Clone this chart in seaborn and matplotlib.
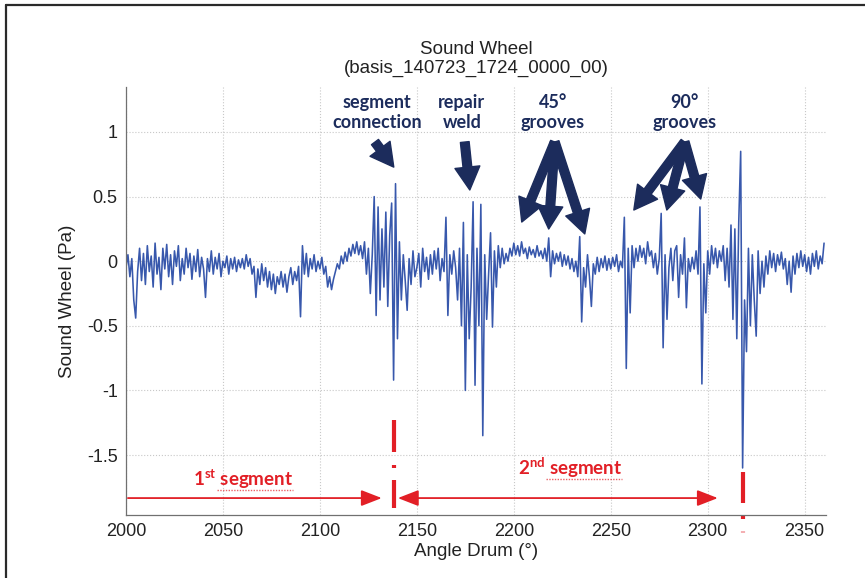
import numpy as np
import pandas as pd
import matplotlib
matplotlib.use("Agg")
import matplotlib.pyplot as plt
import seaborn as sns
from matplotlib.lines import Line2D

# ---------------- data (1 degree spacing) ----------------
angle_start = 2000
angle_step = 1
sound_pa = [
    -0.05, 0.05, -0.12, 0.02, -0.30, -0.44, -0.08, 0.10, -0.15, 0.06,   # 2000
    -0.18, 0.12, -0.08, 0.04, -0.20, 0.14, -0.10, 0.03, -0.22, 0.10,    # 2010
    -0.06, 0.13, -0.12, 0.05, -0.18, 0.08, -0.04, 0.12, -0.15, 0.02,    # 2020
    -0.10, 0.10, -0.05, 0.06, -0.14, 0.04, -0.08, 0.09, -0.12, 0.03,    # 2030
    -0.06, -0.28, 0.02, -0.08, 0.08, -0.10, 0.03, -0.06, 0.06, -0.12,   # 2040
    0.00, -0.05, 0.04, -0.10, 0.02, -0.06, 0.03, -0.08, 0.01, -0.05,    # 2050
    0.02, -0.06, 0.05, -0.04, 0.02, -0.10, -0.04, -0.28, -0.06, -0.18,  # 2060
    -0.02, -0.15, -0.05, -0.20, -0.08, -0.22, -0.10, -0.25, -0.12, -0.18,  # 2070
    -0.08, -0.20, -0.10, -0.24, -0.12, -0.05, -0.18, -0.08, -0.15, -0.04,  # 2080
    -0.43, 0.12, -0.10, 0.06, -0.12, 0.02, -0.06, 0.05, -0.08, 0.00,    # 2090
    -0.06, 0.03, -0.10, -0.04, -0.20, -0.12, -0.22, -0.14, -0.08, -0.02,  # 2100
    -0.06, 0.04, -0.02, 0.07, 0.00, 0.10, 0.04, 0.13, 0.06, 0.15,       # 2110
    0.05, 0.12, 0.02, 0.15, -0.10, 0.10, -0.25, 0.05, 0.50, -0.42,      # 2120
    0.42, -0.30, 0.25, -0.20, 0.38, -0.35, 0.20, 0.45, -0.92, 0.60,     # 2130
    -0.60, 0.15, -0.30, 0.05, -0.15, -0.38, 0.02, -0.18, 0.08, -0.12,   # 2140
    -0.05, 0.06, -0.20, 0.10, -0.08, 0.03, -0.14, 0.05, -0.10, 0.08,    # 2150
    -0.06, 0.10, -0.15, 0.02, -0.08, 0.34, -0.42, 0.05, -0.10, 0.08,    # 2160
    -0.05, -0.30, 0.10, -0.50, 0.30, -1.00, 0.05, -0.60, -0.20, 0.46,   # 2170
    -0.96, 0.10, -0.50, 0.44, -1.35, 0.05, -0.45, -0.10, 0.22, -0.51,   # 2180
    0.08, -0.20, 0.12, -0.05, 0.10, -0.02, 0.06, 0.00, 0.10, 0.04,      # 2190
    0.14, 0.05, 0.12, 0.04, 0.15, 0.06, 0.10, 0.02, 0.11, 0.05,         # 2200
    0.09, 0.03, 0.12, 0.04, 0.08, 0.02, 0.10, 0.00, 0.18, -0.12,        # 2210
    0.08, -0.02, 0.06, 0.00, 0.07, -0.04, 0.05, -0.03, 0.04, -0.06,     # 2220
    0.02, -0.08, 0.00, -0.12, 0.19, -0.47, -0.05, -0.20, 0.05, -0.12,   # 2230
    -0.35, -0.02, -0.10, 0.03, -0.08, 0.02, -0.05, 0.04, -0.07, 0.02,   # 2240
    -0.06, 0.03, -0.04, 0.05, -0.08, 0.00, -0.05, 0.34, -0.83, 0.10,    # 2250
    -0.40, 0.12, -0.05, 0.10, 0.00, 0.12, 0.03, 0.10, -0.02, 0.15,      # 2260
    0.04, 0.08, -0.05, 0.06, -0.10, 0.02, 0.37, -0.67, 0.05, -0.45,     # 2270
    -0.05, 0.10, -0.15, 0.08, 0.12, -0.28, 0.05, -0.10, 0.18, -0.36,    # 2280
    0.02, -0.08, 0.03, -0.06, 0.08, -0.10, 0.42, -0.95, -0.02, -0.40,   # 2290
    0.08, -0.10, 0.12, -0.02, 0.10, -0.05, 0.08, 0.00, 0.12, -0.15,     # 2300
    0.10, -0.20, 0.28, -0.45, 0.25, -0.60, 0.30, 0.85, -1.60, -0.30,    # 2310
    -0.70, 0.10, -0.50, 0.05, -0.30, -0.58, 0.08, -0.25, 0.00, -0.20,   # 2320
    0.04, -0.10, 0.08, -0.05, 0.06, -0.08, 0.05, -0.03, 0.07, -0.06,    # 2330
    0.02, -0.18, 0.00, -0.24, 0.04, -0.10, 0.06, -0.05, 0.08, -0.04,    # 2340
    0.05, -0.08, 0.03, -0.10, 0.06, -0.04, 0.08, -0.06, 0.04, -0.02,    # 2350
    0.14,                                                               # 2360
]
angle_deg = angle_start + angle_step * np.arange(len(sound_pa))

x_ticks = [2000, 2050, 2100, 2150, 2200, 2250, 2300, 2350]
y_ticks = [-1.5, -1, -0.5, 0, 0.5, 1]
y_tick_labels = ["-1.5", "-1", "-0.5", "0", "0.5", "1"]
x_limits = [2000, 2361]
y_limits = [-1.964, 1.348]

title_text = "Sound Wheel\n(basis_140723_1724_0000_00)"
x_label = "Angle Drum (°)"
y_label = "Sound Wheel (Pa)"

event_labels = ["segment\nconnection", "repair\nweld", "45°\ngrooves", "90°\ngrooves"]
event_label_x = [2129.4, 2173.2, 2220.1, 2288.1]
event_label_y = 1.15
# arrows: (start_x, start_y, end_x, end_y)
event_arrows = [
    (2128.4, 0.922, 2138.1, 0.728),
    (2174.7, 0.922, 2177.3, 0.551),
    (2221.1, 0.922, 2204.1, 0.303),
    (2221.1, 0.922, 2218.0, 0.249),
    (2221.1, 0.922, 2236.6, 0.211),
    (2288.1, 0.922, 2261.9, 0.396),
    (2288.1, 0.922, 2278.9, 0.396),
    (2288.1, 0.922, 2296.4, 0.481),
]

segment_marks = [2138.1, 2318.0]
segment_names = ["1$^{\\mathbf{st}}$ segment", "2$^{\\mathbf{nd}}$ segment"]
segment_name_x = [2060.3, 2228.9]
segment_name_y = [-1.741, -1.656]
segment_arrow_y = -1.833

# ---------------- style ----------------
sns.set_style("white")
plt.rcParams["font.family"] = ["Liberation Sans", "DejaVu Sans"]
plt.rcParams["axes.unicode_minus"] = False
plt.rcParams["mathtext.fontset"] = "custom"
plt.rcParams["mathtext.bf"] = "Lato:bold"
plt.rcParams["mathtext.rm"] = "Lato:bold"

NAVY = "#1c2c5c"
RED = "#e21f26"
BLUE = "#2d4fa8"

fig = plt.figure(figsize=(8.65, 5.78), dpi=100)
ax = fig.add_axes([126 / 865, 1 - 515 / 578, 700 / 865, 428 / 578])

df = pd.DataFrame({"angle": angle_deg, "sound": sound_pa})
sns.lineplot(data=df, x="angle", y="sound", ax=ax, color=BLUE, linewidth=1.15,
             estimator=None, sort=False, alpha=0.95)

ax.set_xlim(*x_limits)
ax.set_ylim(*y_limits)
ax.set_xticks(x_ticks)
ax.set_yticks(y_ticks)
ax.set_yticklabels(y_tick_labels)
ax.tick_params(direction="in", length=5, width=0.8, colors="#606060",
               labelcolor="#222222", labelsize=13, pad=6)
ax.grid(True, linestyle=":", color="#c8c8c8", linewidth=0.8)
for s in ["top", "right"]:
    ax.spines[s].set_visible(False)
for s in ["left", "bottom"]:
    ax.spines[s].set_color("#707070")
    ax.spines[s].set_linewidth(0.9)

ax.set_title(title_text, fontsize=13.5, color="#222222", pad=10, linespacing=1.2)
ax.set_xlabel(x_label, fontsize=13.5, color="#222222", labelpad=2)
ax.set_ylabel(y_label, fontsize=13.5, color="#222222", labelpad=8)

# event labels and arrows
for lbl, lx in zip(event_labels, event_label_x):
    ax.text(lx, event_label_y, lbl, ha="center", va="center", fontsize=13,
            family="Lato", fontweight="bold", color=NAVY, linespacing=1.25,
            clip_on=False)
for x0, y0, x1, y1 in event_arrows:
    ax.annotate("", xy=(x1, y1), xytext=(x0, y0),
                arrowprops=dict(arrowstyle="simple,head_length=1.1,head_width=1.2,tail_width=0.42",
                                color=NAVY, mutation_scale=15, shrinkA=0, shrinkB=0))

# segment boundaries (red dash-dot)
m1, m2 = segment_marks
for ya, yb in [(-1.229, -1.477), (-1.575, -1.600), (-1.694, -1.910)]:
    ax.plot([m1, m1], [ya, yb], color=RED, lw=3, solid_capstyle="butt", clip_on=False)
for ya, yb, a in [(-1.632, -1.872, 1.0), (-1.968, -1.993, 1.0), (-2.087, -2.105, 0.35)]:
    ax.plot([m2, m2], [ya, yb], color=RED, lw=3, solid_capstyle="butt", clip_on=False, alpha=a)

# segment arrows
ax.annotate("", xy=(m1 - 6.2, segment_arrow_y), xytext=(x_limits[0] + 1, segment_arrow_y),
            arrowprops=dict(arrowstyle="-|>,head_length=0.9,head_width=0.35",
                            color=RED, lw=1.3, mutation_scale=14, shrinkA=0, shrinkB=0))
ax.annotate("", xy=(m2 - 12.8, segment_arrow_y), xytext=(m1 + 2.1, segment_arrow_y),
            arrowprops=dict(arrowstyle="<|-|>,head_length=0.9,head_width=0.35",
                            color=RED, lw=1.3, mutation_scale=14, shrinkA=0, shrinkB=0))
for name, nx, ny in zip(segment_names, segment_name_x, segment_name_y):
    ax.text(nx, ny, name, ha="center", va="baseline", fontsize=13.5, family="Lato",
            fontweight="bold", color=RED)
# spell-check style underline
for xa, xb, yy in [(2046.9, 2086.1, -1.772), (2216.5, 2255.7, -1.687)]:
    ax.plot([xa, xb], [yy, yy], color=RED, lw=1.0, linestyle=(0, (1, 1)), alpha=0.7)

# frame lines of the screenshot (left and top)
fig.add_artist(Line2D([6 / 865, 6 / 865], [0, 1 - 5 / 578], transform=fig.transFigure,
                      color="#2a2a2a", lw=1.6))
fig.add_artist(Line2D([6 / 865, 1], [1 - 5 / 578, 1 - 5 / 578], transform=fig.transFigure,
                      color="#2a2a2a", lw=1.6))

fig.savefig("out.png", dpi=100)
